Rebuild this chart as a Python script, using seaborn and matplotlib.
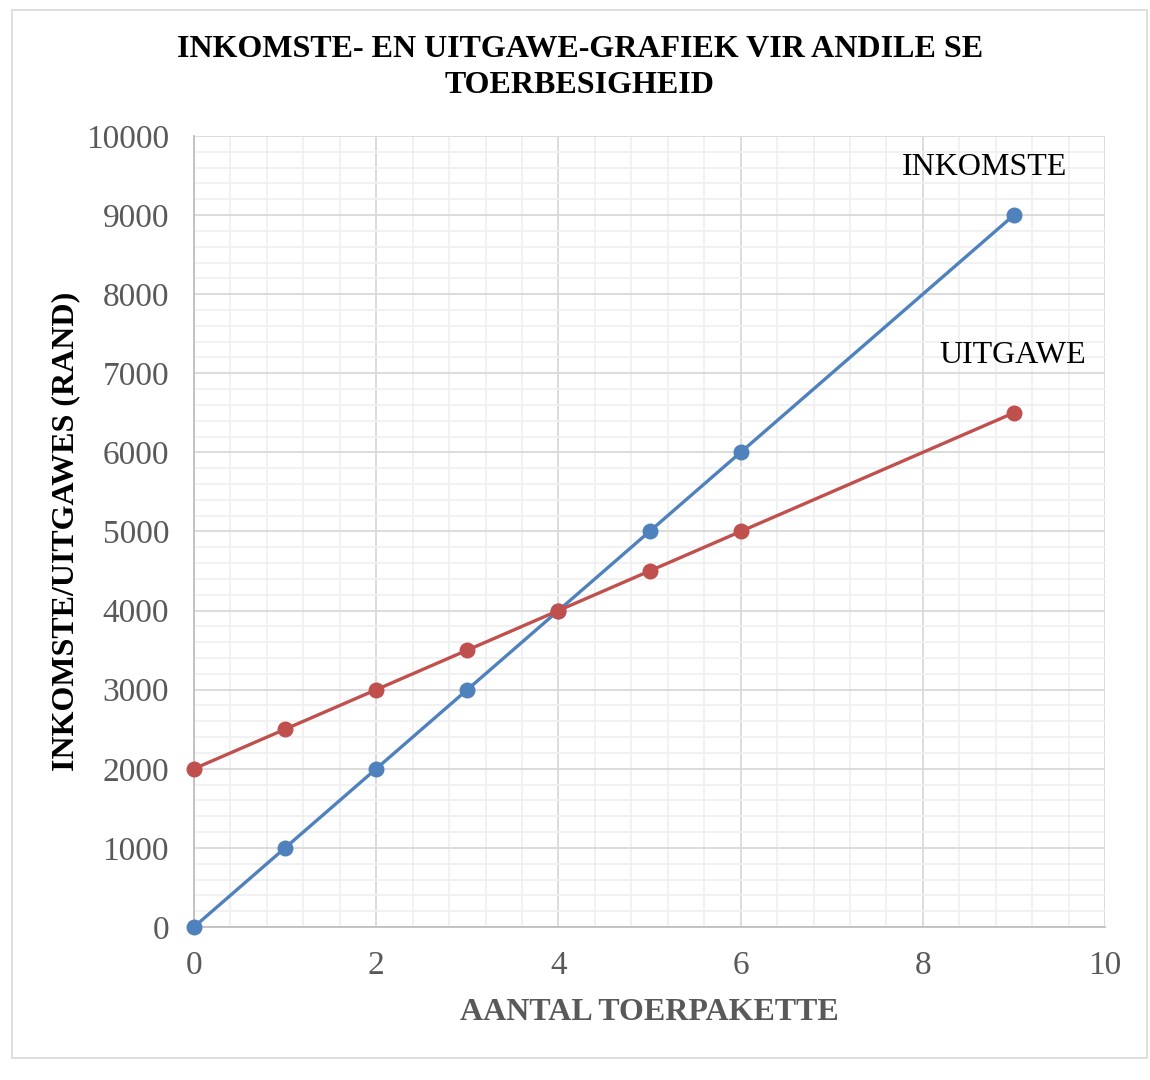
import numpy as np
import pandas as pd
import matplotlib
matplotlib.use("Agg")
import matplotlib.pyplot as plt
from matplotlib.patches import Rectangle
from matplotlib.ticker import MultipleLocator
import seaborn as sns

# data
toerpakette = [0, 1, 2, 3, 4, 5, 6, 9]
inkomste = [0, 1000, 2000, 3000, 4000, 5000, 6000, 9000]
uitgawe = [2000, 2500, 3000, 3500, 4000, 4500, 5000, 6500]
reeks_name = ["INKOMSTE", "UITGAWE"]
kleure = ["#4F81BD", "#C0504D"]

df = pd.DataFrame({
    "x": toerpakette * 2,
    "y": inkomste + uitgawe,
    "reeks": [reeks_name[0]] * len(toerpakette) + [reeks_name[1]] * len(toerpakette),
})

sns.set_theme(style="white")
plt.rcParams["font.family"] = ["Liberation Serif", "DejaVu Serif"]

fig = plt.figure(figsize=(11.5, 10.8), dpi=100)
ax = fig.add_axes([0.1687, 0.1417, 0.7922, 0.7324])

sns.lineplot(data=df, x="x", y="y", hue="reeks", palette=kleure, marker="o",
             markersize=11.5, markeredgewidth=0, linewidth=2.4, ax=ax, legend=False,
             zorder=5)
for ln in ax.lines:
    ln.set_clip_on(False)

ax.set_xlim(0, 10)
ax.set_ylim(0, 10000)
ax.xaxis.set_major_locator(MultipleLocator(2))
ax.xaxis.set_minor_locator(MultipleLocator(0.4))
ax.yaxis.set_major_locator(MultipleLocator(1000))
ax.yaxis.set_minor_locator(MultipleLocator(200))
ax.grid(which="major", color="#d9d9d9", linewidth=1.3)
ax.grid(which="minor", color="#f0f0f0", linewidth=1.3)
ax.set_axisbelow(True)
for s in ["top", "right"]:
    ax.spines[s].set_visible(False)
for s in ["left", "bottom"]:
    ax.spines[s].set_color("#bfbfbf")
    ax.spines[s].set_linewidth(1.3)
ax.tick_params(axis="both", which="both", length=0, labelsize=24,
               labelcolor="#595959")
ax.tick_params(axis="y", pad=18)
ax.tick_params(axis="x", pad=17)

ax.set_xlabel("AANTAL TOERPAKETTE", fontsize=23, fontweight="bold",
              color="#595959", labelpad=12)
ax.set_ylabel("INKOMSTE/UITGAWES (RAND)", fontsize=23, fontweight="bold",
              color="black", labelpad=4)

ax.text(8.68, 9600, "INKOMSTE", fontsize=23, ha="center", va="center", color="black")
ax.text(8.99, 7230, "UITGAWE", fontsize=23, ha="center", va="center", color="black")

fig.text(0.504, 0.968, "INKOMSTE- EN UITGAWE-GRAFIEK VIR ANDILE SE\nTOERBESIGHEID",
         ha="center", va="top", fontsize=23, fontweight="bold", linespacing=1.35,
         color="black")

fig.patches.append(Rectangle((12 / 1150, 1 - 1058 / 1080), 1135 / 1150, 1048 / 1080,
                             transform=fig.transFigure, fill=False,
                             edgecolor="#d9d9d9", linewidth=1.2))

fig.savefig("out.png", dpi=100)
